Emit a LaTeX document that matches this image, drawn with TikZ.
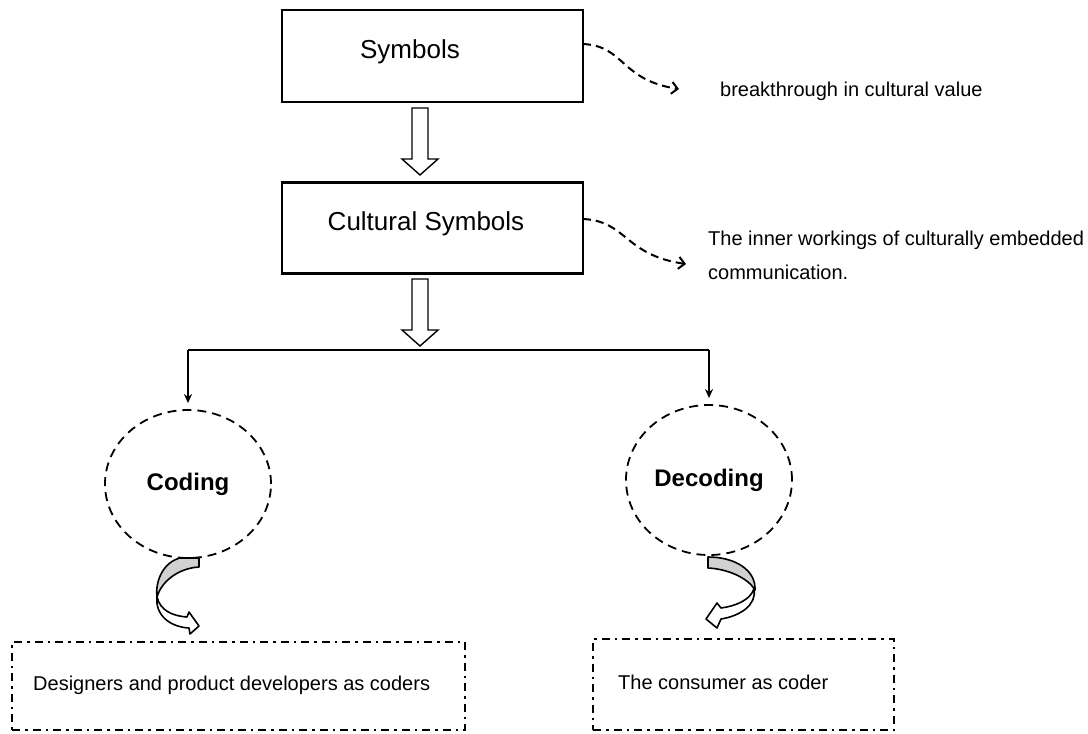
\documentclass[tikz,border=0pt]{standalone}
\usepackage{fontspec}
\setmainfont{Liberation Sans}
\usetikzlibrary{shapes.geometric,arrows.meta,calc}

\begin{document}
\begin{tikzpicture}[x=1pt,y=-1pt,
  box/.style={draw,line width=2.2pt,minimum width=301pt,minimum height=92pt,inner sep=0},
  lbl/.style={inner sep=0,anchor=west,align=left,font=\fontsize{20}{34}\selectfont},
  head/.style={inner sep=0,font=\fontsize{26}{30}\selectfont},
  circ/.style={ellipse,draw,line width=1.8pt,dash pattern=on 9pt off 6pt,
    minimum width=166pt,minimum height=148pt,inner sep=0,
    font=\bfseries\fontsize{24}{28}\selectfont},
  dashdot/.style={draw,line width=2.2pt,dash pattern=on 8pt off 5pt on 2.5pt off 5pt,inner sep=0},
  note/.style={line width=2pt,dash pattern=on 8pt off 5pt,
    -{Straight Barb[length=6pt,width=12pt,line width=2pt]}},
  tree/.style={line width=1.6pt},
  fork/.style={tree,-{Stealth[length=9pt,width=8pt]},shorten >=6pt},
  curlband/.style={line width=1.6pt,line join=round},
  hollowdown/.pic={
    \draw[line width=1.4pt,line join=miter,fill=white]
      (-8,0) -- (8,0) -- (8,51) -- (18,51) -- (0,67) -- (-18,51) -- (-8,51) -- cycle;
  },
]
\useasboundingbox (0,0) rectangle (1088,734);

% upper boxes
\node[box,minimum height=92pt] (sym) at (432.5,56) {};
\node[head] (symT) at (410,52) {Symbols};
\node[box,minimum height=91pt] (cult) at (432.5,228) {};
\node[head] (cultT) at (426,224) {Cultural Symbols};

% hollow arrows between the boxes and down to the fork
\pic at (420,108) {hollowdown};
\pic at (420,279) {hollowdown};

% side notes
\coordinate (n1s) at (583,44);
\coordinate (n1e) at (679,89);
\node[lbl] (n1) at (720,91) {breakthrough in cultural value};
\draw[note] (n1s) .. controls (625,46) and (620,80) .. (n1e);

\coordinate (n2s) at (583,219);
\coordinate (n2e) at (686,264);
\node[lbl] (n2) at (708,255) {The inner workings of culturally embedded\\communication.};
\draw[note] (n2s) .. controls (627,221) and (624,255) .. (n2e);

% ellipses
\node[circ] (coding) at (188,484) {Coding};
\node[circ,minimum height=150pt] (decoding) at (709,480) {Decoding};

% fork
\coordinate (jl) at (188,350);
\coordinate (jr) at (709,350);
\draw[tree] (jl) -- (jr);
\draw[fork] (jl) -- (coding.north);
\draw[fork] (jr) -- (decoding.north);

% bottom boxes
\node[dashdot,minimum width=453pt,minimum height=88pt] (dev) at (238.5,686) {};
\node[lbl] (devT) at (33,685) {Designers and product developers as coders};
\node[dashdot,minimum width=301pt,minimum height=91pt] (cons) at (743.5,684.5) {};
\node[lbl] (consT) at (618,682) {The consumer as coder};

% curved arrow under Coding
\draw[curlband,fill=black!18]
  (180,558) -- (199,558) -- (199,567)
  .. controls (180,568) and (162,580) .. (157,597)
  .. controls (155,580) and (164,562) .. (180,558) -- cycle;
\draw[curlband,fill=white]
  (157,597) .. controls (160,610) and (172,616) .. (187,617)
  -- (189,612) -- (199,626) -- (190,634) -- (189,628)
  .. controls (170,627) and (155,615) .. (157,597) -- cycle;

% curved arrow under Decoding
\draw[curlband,fill=black!18]
  (708,557) .. controls (735,557) and (756,570) .. (755,590)
  .. controls (748,578) and (728,569) .. (708,568) -- cycle;
\draw[curlband,fill=white]
  (754,589) .. controls (750,600) and (736,606) .. (721,608)
  -- (717,603) -- (706,619) -- (717,628) -- (721,619)
  .. controls (740,616) and (757,605) .. (754,589) -- cycle;
\end{tikzpicture}
\end{document}
